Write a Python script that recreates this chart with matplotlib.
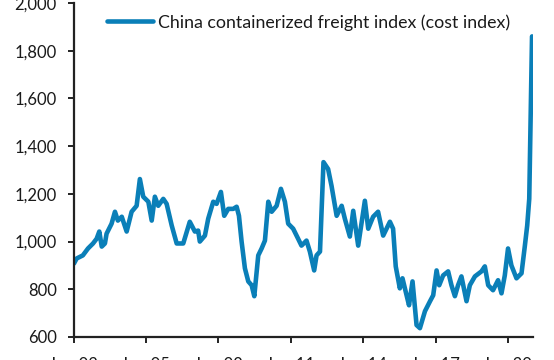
import pandas as pd
import matplotlib
matplotlib.use("Agg")
import matplotlib.pyplot as plt
import matplotlib.dates as mdates
from matplotlib.ticker import FuncFormatter

# China containerized freight index
dates = [
    "2002-01-08", "2002-02-17", "2002-05-22", "2002-08-08", "2002-10-23",
    "2002-12-17", "2003-01-26", "2003-03-04", "2003-04-21", "2003-05-16",
    "2003-07-31", "2003-09-20", "2003-11-03", "2004-01-01", "2004-03-15",
    "2004-05-29", "2004-08-13", "2004-10-01", "2004-11-21", "2005-02-06",
    "2005-03-29", "2005-05-16", "2005-07-06", "2005-09-20", "2005-11-10",
    "2006-01-26", "2006-04-11", "2006-07-19", "2006-10-26", "2007-01-11",
    "2007-03-02", "2007-03-27", "2007-06-12", "2007-08-01", "2007-10-16",
    "2007-12-06", "2008-02-09", "2008-03-30", "2008-05-30", "2008-08-14",
    "2008-10-04", "2008-11-08", "2008-12-18", "2009-02-06", "2009-03-29",
    "2009-05-19", "2009-06-28", "2009-08-27", "2009-10-17", "2009-12-06",
    "2010-01-26", "2010-03-18", "2010-06-01", "2010-08-05", "2010-10-04",
    "2010-11-23", "2011-02-06", "2011-04-22", "2011-06-12", "2011-08-27",
    "2011-10-17", "2011-12-21", "2012-01-26", "2012-03-18", "2012-05-10",
    "2012-07-19", "2012-09-09", "2012-11-25", "2013-02-09", "2013-03-29",
    "2013-06-13", "2013-08-03", "2013-10-17", "2014-01-26", "2014-03-18",
    "2014-05-31", "2014-08-14", "2014-10-30", "2015-02-09", "2015-03-29",
    "2015-05-08", "2015-07-09", "2015-08-18", "2015-10-19", "2015-11-25",
    "2016-01-17", "2016-03-18", "2016-05-08", "2016-07-23", "2016-10-08",
    "2016-11-25", "2017-01-15", "2017-02-24", "2017-04-24", "2017-07-09",
    "2017-08-28", "2017-10-19", "2017-12-06", "2018-01-26", "2018-04-13",
    "2018-06-02", "2018-08-18", "2018-11-25", "2019-01-15", "2019-03-07",
    "2019-05-19", "2019-08-03", "2019-09-24", "2019-11-13", "2020-01-01",
    "2020-02-21", "2020-05-08", "2020-07-23", "2020-09-12", "2020-10-17",
    "2020-11-17", "2020-12-29",
]
ccfi = [
    908, 929, 942, 971, 992,
    1012, 1042, 979, 992, 1033,
    1075, 1125, 1088, 1104, 1042,
    1125, 1150, 1262, 1188, 1167,
    1088, 1188, 1150, 1179, 1158,
    1067, 992, 992, 1083, 1042,
    1046, 1000, 1025, 1096, 1167,
    1158, 1208, 1108, 1137, 1137,
    1146, 1108, 1000, 888, 833,
    817, 771, 942, 971, 1004,
    1167, 1125, 1150, 1221, 1167,
    1075, 1054, 1012, 983, 1004,
    958, 879, 942, 958, 1333,
    1304, 1233, 1108, 1150, 1096,
    1021, 1129, 983, 1171, 1054,
    1104, 1125, 1025, 1083, 1054,
    896, 804, 846, 775, 733,
    833, 650, 637, 708, 750,
    775, 879, 817, 858, 875,
    817, 771, 817, 854, 750,
    817, 854, 875, 896, 817,
    796, 838, 783, 858, 971,
    900, 846, 867, 983, 1067,
    1179, 1860,
]
legend_label = "China containerized freight index (cost index)"
y_ticks = [600, 800, 1000, 1200, 1400, 1600, 1800, 2000]
x_tick_years = [2002, 2005, 2008, 2011, 2014, 2017, 2020]

line_color = "#0a7fb8"
text_color = "#1a1a1a"

plt.rcParams["font.family"] = ["Lato", "DejaVu Sans"]

fig = plt.figure(figsize=(5.54, 3.60), dpi=100)
ax = fig.add_axes([0.1327, 0.0639, 0.8293, 0.9278])

x = pd.to_datetime(dates)
ax.plot(x, ccfi, color=line_color, linewidth=3.3, solid_joinstyle="round",
        solid_capstyle="round", label=legend_label)

ax.set_ylim(y_ticks[0], y_ticks[-1])
ax.set_yticks(y_ticks)
ax.yaxis.set_major_formatter(FuncFormatter(lambda v, p: f"{int(v):,}"))
ax.set_xlim(pd.Timestamp("2002-01-01"), pd.Timestamp("2021-01-12"))
ax.set_xticks([pd.Timestamp(f"{yr}-01-01") for yr in x_tick_years])
ax.xaxis.set_major_formatter(mdates.DateFormatter("%b-%y"))

for side in ("top", "right"):
    ax.spines[side].set_visible(False)
for side in ("left", "bottom"):
    ax.spines[side].set_color("#222222")
    ax.spines[side].set_linewidth(1.6)

ax.tick_params(axis="both", direction="out", length=4, width=1.4,
               color="#222222", labelsize=12, labelcolor=text_color)
ax.tick_params(axis="y", pad=8)
ax.tick_params(axis="x", pad=10.5)

ax.legend(loc="upper left", bbox_to_anchor=(0.073, 0.967), frameon=False,
          borderpad=0, borderaxespad=0, handlelength=2.6, handletextpad=0.25,
          fontsize=12.8, labelcolor=text_color)

fig.savefig("out.png", dpi=100)
